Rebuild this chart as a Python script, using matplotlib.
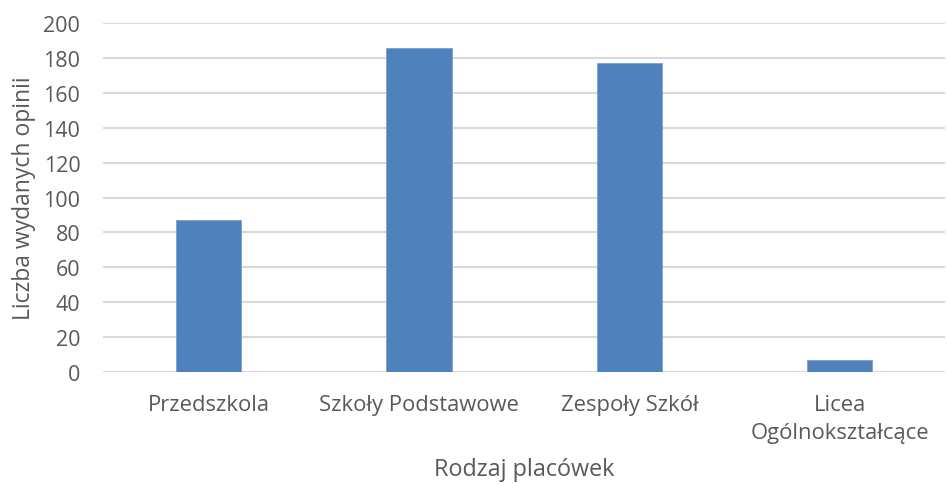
import matplotlib
matplotlib.use("Agg")
import matplotlib.pyplot as plt

categories = ["Przedszkola", "Szkoły Podstawowe", "Zespoły Szkół", "Licea\nOgólnokształcące"]
values = [87, 186, 177, 7]
yticks = [0, 20, 40, 60, 80, 100, 120, 140, 160, 180, 200]

plt.rcParams['font.family'] = ['Open Sans', 'DejaVu Sans']
txt = '#595959'
fig = plt.figure(figsize=(9.47, 4.85), dpi=100)
ax = fig.add_axes([0.109, 0.231, 0.889, 0.719])
x = range(len(categories))
ax.bar(x, values, width=0.31, color='#4f81bd', edgecolor='#7aa0d0', linewidth=0.6, zorder=3)
ax.set_xlim(-0.5, len(categories) - 0.5)
ax.set_ylim(0, 200)
ax.set_yticks(yticks)
ax.set_xticks(list(x))
ax.set_xticklabels(categories, fontsize=15.8, color=txt, linespacing=1.45)
ax.tick_params(axis='y', labelsize=15.5, labelcolor=txt, length=0, pad=16.5)
ax.tick_params(axis='x', length=0, pad=16)
ax.grid(axis='y', color='#d9d9d9', linewidth=1.5, zorder=0)
for s in ax.spines.values():
    s.set_visible(False)
ax.set_ylabel("Liczba wydanych opinii", fontsize=16.5, color=txt, labelpad=5)
ax.set_xlabel("Rodzaj placówek", fontsize=16.8, color=txt, va='center')
ax.xaxis.set_label_coords(0.5, -(470 - 373) / 349)
fig.savefig("out.png", dpi=100)
